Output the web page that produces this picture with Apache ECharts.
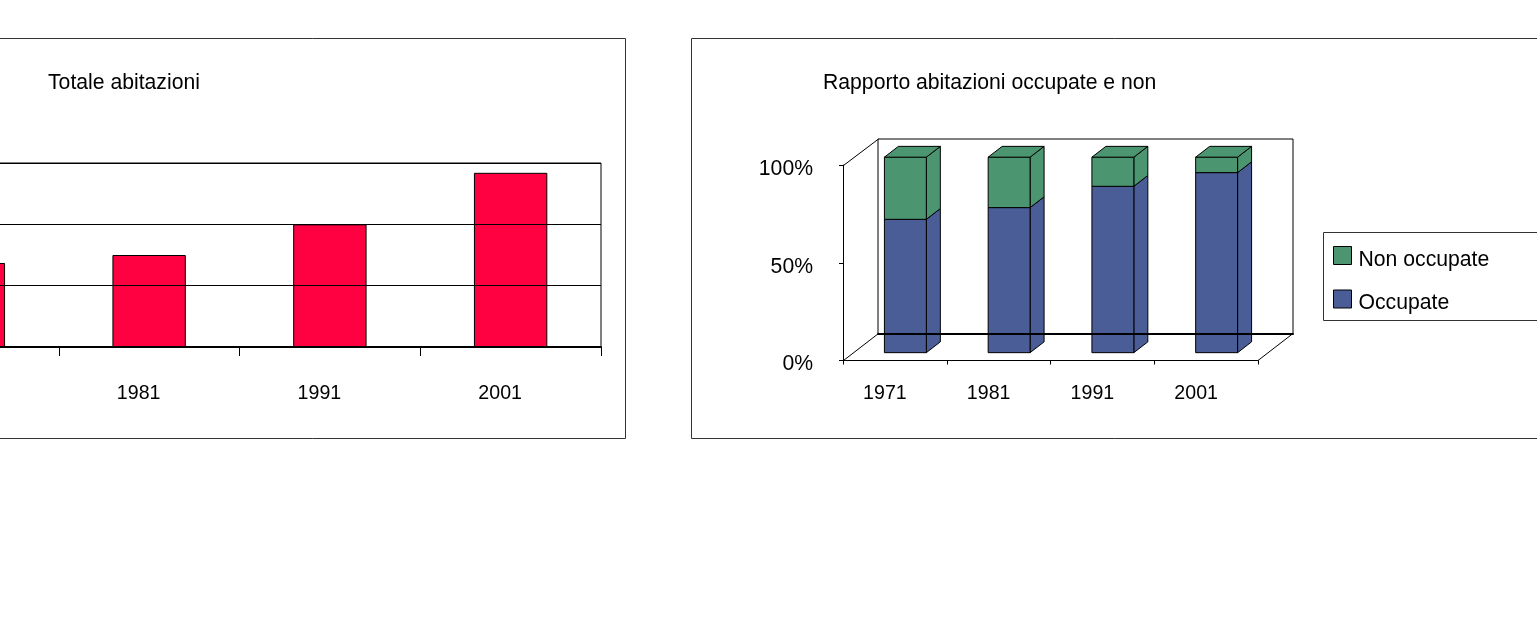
<!DOCTYPE html>
<html>
<head>
<meta charset="utf-8">
<style>html,body{margin:0;padding:0;background:#fff;overflow:hidden}#c{width:1537px;height:618px}</style>
<script src="https://cdn.jsdelivr.net/npm/echarts@6/dist/echarts.min.js"></script>
</head>
<body>
<div id="c"></div>
<script>
const years = ['1971', '1981', '1991', '2001'];
// Left chart: the value axis is cropped in the reference, so values are in gridline units.
const totaleAbitazioni = [1.37, 1.5, 2.0, 2.84];
const occupate = [68.2, 74.2, 85.1, 92.1];
const nonOccupate = [31.8, 25.8, 14.9, 7.9];
const percentTicks = [0, 50, 100];

const FONT = '"Liberation Sans", Arial, sans-serif';
const FS = 21.2;
const FS_YEAR = 19.6;
const RED = '#FF0040', BLUE = '#4B5D96', GREEN = '#4B9670', INK = '#000', FRAME = '#333';
const DEPTH_X = 35, DEPTH_Y = -27;

function prism(values, bases, color, withTop) {
  return function (params, api) {
    const i = params.dataIndex;
    const band = api.size([1, 0])[0];
    const w = band * 0.404, sx = DEPTH_X * 0.4, sy = DEPTH_Y * 0.4;
    const ox = DEPTH_X * 0.3, oy = DEPTH_Y * 0.29;
    const lo = api.coord([i, bases[i]]), hi = api.coord([i, bases[i] + values[i]]);
    const l = lo[0] - w / 2 + ox, r = l + w, b = lo[1] + oy, t = hi[1] + oy;
    const style = { fill: color, stroke: INK, lineWidth: 1 };
    const face = pts => ({ type: 'polygon', shape: { points: pts }, style });
    const kids = [
      face([[r, b], [r + sx, b + sy], [r + sx, t + sy], [r, t]]),
      face([[l, b], [r, b], [r, t], [l, t]])
    ];
    if (withTop) kids.push(face([[l, t], [r, t], [r + sx, t + sy], [l + sx, t + sy]]));
    return { type: 'group', children: kids };
  };
}

const zeros = years.map(() => 0);
const line = (x1, y1, x2, y2, w) => ({
  type: 'line', silent: true, z: 3,
  shape: { x1, y1, x2, y2 }, style: { stroke: INK, lineWidth: w || 1 }
});

const chart = echarts.init(document.getElementById('c'), null, { renderer: 'canvas' });
chart.setOption({
  animation: false,
  backgroundColor: '#fff',
  textStyle: { fontFamily: FONT },
  title: [
    { text: 'Totale abitazioni', left: 48, top: 73, padding: 0,
      textStyle: { fontFamily: FONT, fontSize: FS, fontWeight: 'normal', color: INK } },
    { text: 'Rapporto abitazioni occupate e non', left: 823, top: 73, padding: 0,
      textStyle: { fontFamily: FONT, fontSize: FS, fontWeight: 'normal', color: INK } }
  ],
  legend: {
    orient: 'vertical', left: 1333, top: 246,
    data: ['Non occupate', 'Occupate'],
    icon: 'rect', itemWidth: 18, itemHeight: 18, itemGap: 19,
    padding: 0,
    formatter: '{a|{name}}',
    textStyle: { fontFamily: FONT, fontSize: FS, color: INK,
      rich: { a: { fontFamily: FONT, fontSize: FS, color: INK, padding: [9, 0, 0, 2] } } },
    itemStyle: { borderColor: INK, borderWidth: 1 }
  },
  grid: [
    { left: -122, width: 723, top: 163, height: 184, outerBoundsMode: 'none', show: true, borderColor: INK, borderWidth: 1, backgroundColor: 'transparent' },
    { left: 843, width: 415, top: 165, height: 195.5, outerBoundsMode: 'none' },
    { left: 878, width: 415, top: 139, height: 194.5, outerBoundsMode: 'none', show: true, borderColor: INK, borderWidth: 1, backgroundColor: 'transparent' }
  ],
  xAxis: [
    { type: 'category', gridIndex: 0, data: years, z: 5,
      axisLine: { lineStyle: { color: INK, width: 2 } },
      axisTick: { show: true, length: 9, lineStyle: { color: INK } },
      axisLabel: { color: INK, fontFamily: FONT, fontSize: FS_YEAR, margin: 37, padding: [0, 21, 0, 0], interval: 0 } },
    { type: 'category', gridIndex: 1, data: years, z: 5,
      axisLine: { lineStyle: { color: INK, width: 1 } },
      axisTick: { show: true, length: 4, lineStyle: { color: INK } },
      axisLabel: { color: INK, fontFamily: FONT, fontSize: FS_YEAR, margin: 23, padding: [0, 20, 0, 0], interval: 0 } },
    { type: 'category', gridIndex: 2, data: years, z: 5,
      axisLine: { lineStyle: { color: INK, width: 2 } },
      axisTick: { show: false }, axisLabel: { show: false } }
  ],
  yAxis: [
    { type: 'value', gridIndex: 0, min: 0, max: 3, interval: 1, z: 5,
      axisLine: { show: false }, axisTick: { show: false }, axisLabel: { show: false },
      splitLine: { show: true, lineStyle: { color: INK, width: 1 } } },
    { type: 'value', gridIndex: 1, min: 0, max: 100, interval: 50, z: 5,
      axisLine: { show: true, lineStyle: { color: INK, width: 1 } },
      axisTick: { show: true, length: 4, lineStyle: { color: INK } },
      axisLabel: { color: INK, fontFamily: FONT, fontSize: FS, margin: 30,
        formatter: v => percentTicks.includes(v) ? '{a|' + v + '%}' : '',
        rich: { a: { fontFamily: FONT, fontSize: FS, color: INK, padding: [8, 0, 0, 0] } } },
      splitLine: { show: false } },
    { type: 'value', gridIndex: 2, min: 0, max: 100, show: false, splitLine: { show: false } }
  ],
  series: [
    { name: 'Totale abitazioni', type: 'bar', xAxisIndex: 0, yAxisIndex: 0, data: totaleAbitazioni,
      barWidth: '40.6%', z: 1,
      itemStyle: { color: RED, borderColor: INK, borderWidth: 1 } },
    { name: 'Occupate', type: 'custom', xAxisIndex: 1, yAxisIndex: 1, z: 2,
      itemStyle: { color: BLUE },
      data: occupate.map((v, i) => [i, v]), encode: { x: 0, y: 1 },
      clip: false, renderItem: prism(occupate, zeros, BLUE, false) },
    { name: 'Non occupate', type: 'custom', xAxisIndex: 1, yAxisIndex: 1, z: 2,
      itemStyle: { color: GREEN },
      data: nonOccupate.map((v, i) => [i, occupate[i] + v]), encode: { x: 0, y: 1 },
      clip: false, renderItem: prism(nonOccupate, occupate, GREEN, true) }
  ],
  graphic: [
    { type: 'rect', silent: true, z: -1, shape: { x: -10, y: 38.5, width: 635.5, height: 400 },
      style: { fill: 'transparent', stroke: FRAME, lineWidth: 1 } },
    { type: 'rect', silent: true, z: -1, shape: { x: 691.5, y: 38.5, width: 860, height: 400 },
      style: { fill: 'transparent', stroke: FRAME, lineWidth: 1 } },
    { type: 'rect', silent: true, z: -1, shape: { x: 1323.5, y: 232.5, width: 230, height: 88 },
      style: { fill: 'transparent', stroke: FRAME, lineWidth: 1 } },
    line(843.5, 165.5, 878.5, 139),
    line(843.5, 360.5, 878.5, 333.5),
    line(1258, 360.5, 1293, 333.5)
  ]
});
</script>
</body>
</html>
